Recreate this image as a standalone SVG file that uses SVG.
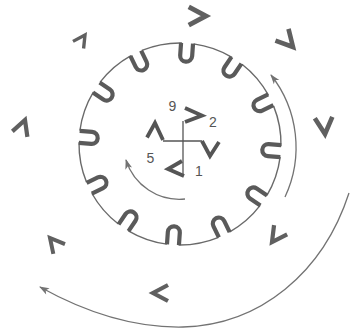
<svg xmlns="http://www.w3.org/2000/svg" xmlns:xlink="http://www.w3.org/1999/xlink" width="350" height="331" viewBox="0 0 350 331">
<style>
.rim{fill:none;stroke:#6a6a6a;stroke-width:1.4}
.notch{fill:none;stroke:#5a5a5a;stroke-width:4.2}
.chev{fill:none;stroke:#606060;stroke-width:4.2;stroke-linejoin:miter}
.cchev{fill:none;stroke:#555;stroke-width:3.8;stroke-linejoin:miter}
.thin{fill:none;stroke:#555;stroke-width:1.3}
.arc{fill:none;stroke:#737373;stroke-width:1.3}
.lbl{font-family:"Liberation Sans",Arial,sans-serif;font-size:14px;fill:#555;text-anchor:middle}
</style>
<defs>
<path id="notch" class="notch" d="M-6,-101 L-6,-88.5 A6,6 0 0 0 6,-88.5 L6,-101"/>
<path id="chevron" class="chev" d="M-15,-8 L0,0 L-15,8"/>
<marker id="ah" viewBox="-10 -5 12 10" refX="0" refY="0" markerWidth="12" markerHeight="10" markerUnits="userSpaceOnUse" orient="auto">
<path d="M1,0 L-9,-3.5 L-6.5,0 L-9,3.5 Z" fill="#737373"/>
</marker>
</defs>
<rect width="350" height="331" fill="#fff"/>
<g id="wheel" transform="translate(180,144) rotate(4)">
<circle class="rim" cx="0" cy="0" r="101" stroke-dasharray="40.88 12" stroke-dashoffset="46.88"/>
<use xlink:href="#notch" transform="rotate(0)"/>
<use xlink:href="#notch" transform="rotate(30)"/>
<use xlink:href="#notch" transform="rotate(60)"/>
<use xlink:href="#notch" transform="rotate(90)"/>
<use xlink:href="#notch" transform="rotate(120)"/>
<use xlink:href="#notch" transform="rotate(150)"/>
<use xlink:href="#notch" transform="rotate(180)"/>
<use xlink:href="#notch" transform="rotate(210)"/>
<use xlink:href="#notch" transform="rotate(240)"/>
<use xlink:href="#notch" transform="rotate(270)"/>
<use xlink:href="#notch" transform="rotate(300)"/>
<use xlink:href="#notch" transform="rotate(330)"/>
</g>
<g id="center-cross">
<line class="thin" x1="183" y1="121" x2="183" y2="175"/>
<line class="thin" x1="163" y1="141" x2="202" y2="141"/>
<path class="cchev" d="M185,108 L202,115.5 L185,122"/>
<path class="cchev" d="M182,161 L168,169 L184,176"/>
<path class="cchev" d="M147,137.5 L155,123 L163,140"/>
<path class="cchev" d="M202,141 L210,156 L219,142"/>
</g>
<g id="labels">
<text class="lbl" x="172.5" y="111">9</text>
<text class="lbl" x="213" y="127">2</text>
<text class="lbl" x="150.5" y="163">5</text>
<text class="lbl" x="199" y="176">1</text>
</g>
<g id="chevrons">
<use xlink:href="#chevron" transform="translate(206,16) scale(1.15)"/>
<use xlink:href="#chevron" transform="translate(85,35) rotate(-56) scale(0.8)"/>
<use xlink:href="#chevron" transform="translate(293,47) rotate(48) scale(1.1)"/>
<use xlink:href="#chevron" transform="translate(325,134) rotate(85) scale(1.1)"/>
<use xlink:href="#chevron" transform="translate(272,242) rotate(125)"/>
<use xlink:href="#chevron" transform="translate(153,293) rotate(180)"/>
<use xlink:href="#chevron" transform="translate(50,238) rotate(-130) scale(0.95)"/>
<use xlink:href="#chevron" transform="translate(25,120) rotate(-70)"/>
</g>
<g id="connectors">
<path class="arc" d="M185,199 A56,56 0 0 1 126,160" marker-end="url(#ah)"/>
<path class="arc" d="M285,197 A117,117 0 0 0 271,75" marker-end="url(#ah)"/>
<path class="arc" d="M349,193 C323,273 260,325 183,327 C133,328 83.7,311.3 40,287" marker-end="url(#ah)"/>
</g>
</svg>
